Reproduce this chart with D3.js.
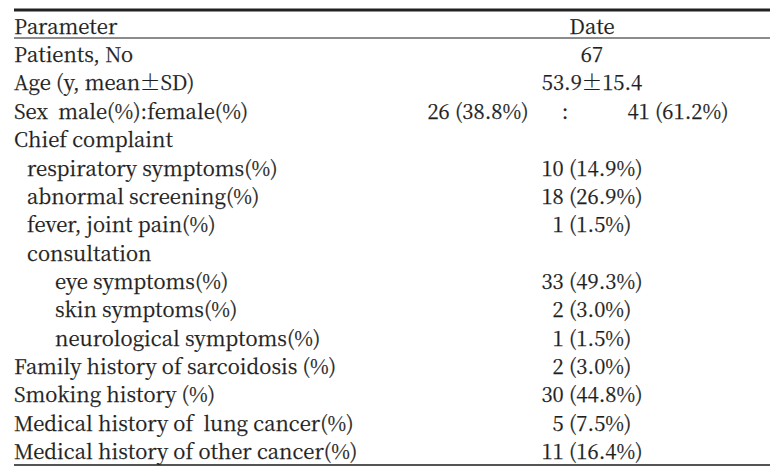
<!DOCTYPE html>
<html lang="en">
<head>
<meta charset="UTF-8" />
<title>Patient characteristics</title>
<script src="https://cdn.jsdelivr.net/npm/d3@7"></script>
<style>
  body { margin: 0; background: #fff; }
</style>
</head>
<body>
<script>
// table content
var headers = ["Parameter", "Date"];
var labels = [
  "Patients, No",
  "Age (y, mean\u00b1SD)",
  "Sex\u2002male(%):female(%)",
  "Chief complaint",
  "respiratory symptoms(%)",
  "abnormal screening(%)",
  "fever, joint pain(%)",
  "consultation",
  "eye symptoms(%)",
  "skin symptoms(%)",
  "neurological symptoms(%)",
  "Family history of sarcoidosis (%)",
  "Smoking history (%)",
  "Medical history of\u2002lung cancer(%)",
  "Medical history of other cancer(%)"
];
var levels = [0, 0, 0, 0, 1, 1, 1, 1, 2, 2, 2, 0, 0, 0, 0];
var values = [
  "67",
  "53.9\u00b115.4",
  "",
  "",
  "10 (14.9%)",
  "18 (26.9%)",
  "1 (1.5%)",
  "",
  "33 (49.3%)",
  "2 (3.0%)",
  "1 (1.5%)",
  "2 (3.0%)",
  "30 (44.8%)",
  "5 (7.5%)",
  "11 (16.4%)"
];
var sexRow = 2;
var sexMale = "26 (38.8%)";
var sexFemale = "41 (61.2%)";

var w = 783, h = 476;
var left = 14, right = 770;
var valueX = 592;
var font = "'Noto Serif CJK JP', 'Liberation Serif', serif";
var fontSize = 20.3;
var ink = "#1e1e1e";

var svg = d3.select("body").append("svg")
  .attr("width", w)
  .attr("height", h);

var y = d3.scaleLinear()
  .domain([0, labels.length - 1])
  .range([55, 452]);

var indent = d3.scaleOrdinal()
  .domain([0, 1, 2])
  .range([left, 27, 55]);

function addText(x, yy, str, anchor) {
  return svg.append("text")
    .attr("x", x).attr("y", yy).attr("dy", "0.35em")
    .attr("text-anchor", anchor || "start")
    .attr("font-family", font)
    .attr("font-size", fontSize)
    .attr("fill", ink)
    .attr("stroke", ink)
    .attr("stroke-width", 0.25)
    .text(str);
}

// rules
svg.append("line")
  .attr("x1", left).attr("x2", right)
  .attr("y1", 10).attr("y2", 10)
  .attr("stroke", "#222").attr("stroke-width", 3.2);

svg.append("line")
  .attr("x1", left).attr("x2", right)
  .attr("y1", 38).attr("y2", 38)
  .attr("stroke", "#666").attr("stroke-width", 1.6);

svg.append("line")
  .attr("x1", left).attr("x2", right)
  .attr("y1", 465).attr("y2", 465)
  .attr("stroke", "#555").attr("stroke-width", 2.2);

// header
addText(left, 27, headers[0]);
addText(valueX, 27, headers[1], "middle");

// left column
labels.forEach(function(d, i) {
  addText(indent(levels[i]), y(i), d);
});

// right column
values.forEach(function(d, i) {
  if (d) addText(valueX, y(i), d, "middle");
});

// sex row split in two
addText(478, y(sexRow), sexMale, "middle");
addText(565, y(sexRow), ":", "middle");
addText(678, y(sexRow), sexFemale, "middle");
</script>
</body>
</html>
